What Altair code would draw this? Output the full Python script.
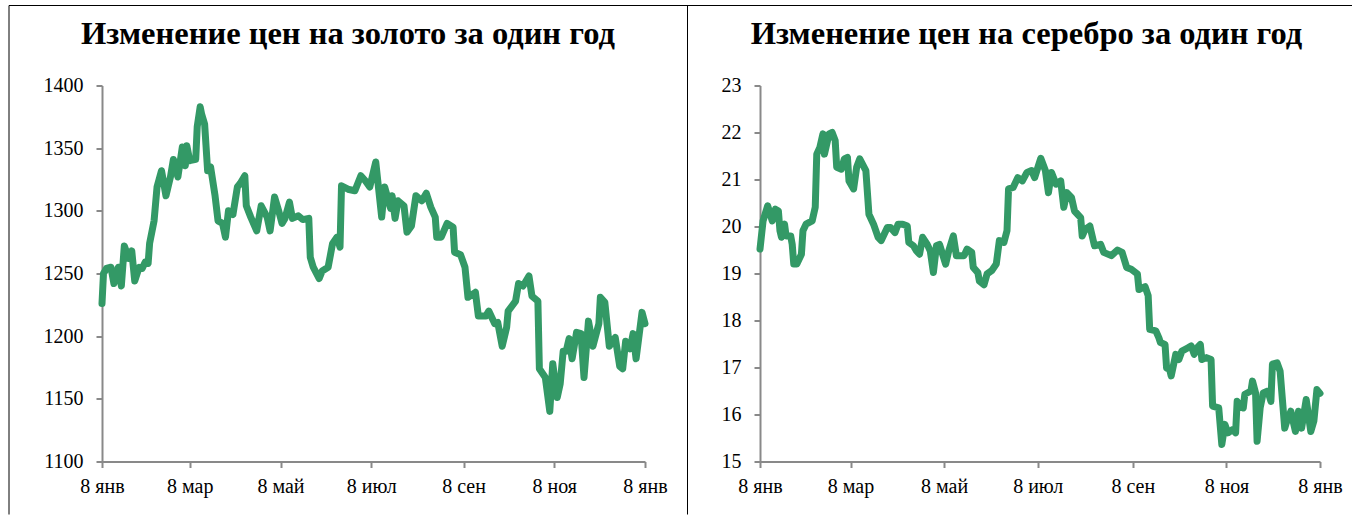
import altair as alt
import pandas as pd

START = "2014-01-08"

# Gold: day offset from 8 Jan 2014, price (USD/oz)
gold_day = [0, 1, 3, 6, 8, 11, 13, 15, 18, 20, 22, 25, 27, 29, 31, 32, 35, 37, 40, 43,
            46, 48, 51, 54, 56, 57, 59, 63, 64, 66, 67, 69, 71, 73, 76, 78, 81, 83, 85, 88,
            91, 93, 96, 97, 100, 104, 107, 111, 113, 116, 119, 121, 123, 126, 128, 132, 135, 139, 140, 142,
            146, 148, 152, 155, 158, 160, 161, 166, 170, 174, 177, 180, 184, 188, 190, 194, 195, 197, 199, 203,
            205, 208, 211, 215, 218, 221, 224, 225, 228, 232, 236, 237, 241, 244, 246, 251, 253, 258, 260, 264,
            266, 269, 272, 273, 278, 280, 283, 287, 289, 293, 294, 298, 301, 303, 306, 308, 310, 312, 314, 316,
            319, 322, 324, 327, 330, 334, 335, 338, 341, 345, 348, 350, 352, 355, 357, 359, 363, 365]
gold_price = [1226, 1250, 1254, 1255, 1242, 1255, 1240, 1272, 1262, 1268, 1244, 1255, 1254, 1259, 1258, 1274, 1292, 1319, 1332, 1312,
              1327, 1341, 1327, 1351, 1336, 1352, 1340, 1341, 1367, 1383, 1377, 1369, 1332, 1335, 1312, 1292, 1290, 1279, 1300, 1297,
              1319, 1322, 1328, 1304, 1295, 1284, 1304, 1295, 1284, 1311, 1299, 1290, 1294, 1307, 1294, 1296, 1293, 1294, 1263, 1255,
              1246, 1252, 1255, 1274, 1279, 1271, 1320, 1317, 1316, 1328, 1324, 1319, 1339, 1295, 1319, 1302, 1312, 1294, 1308, 1304,
              1283, 1288, 1312, 1308, 1314, 1303, 1295, 1279, 1279, 1290, 1287, 1267, 1265, 1255, 1231, 1235, 1216, 1216, 1220, 1210,
              1211, 1192, 1207, 1220, 1228, 1242, 1240, 1248, 1232, 1228, 1174, 1167, 1140, 1178, 1151, 1162, 1188, 1188, 1198, 1182,
              1203, 1202, 1167, 1212, 1192, 1210, 1231, 1227, 1192, 1199, 1176, 1174, 1196, 1190, 1202, 1182, 1219, 1210]

# Silver: day offset from 8 Jan 2014, price (USD/oz)
silver_day = [0, 2, 5, 8, 10, 12, 13, 14, 16, 17, 20, 21, 22, 24, 27, 28, 30, 34, 36, 37,
              39, 41, 42, 45, 47, 49, 50, 53, 55, 57, 58, 61, 63, 65, 69, 71, 74, 77, 79, 83,
              85, 88, 90, 93, 96, 97, 100, 102, 104, 106, 109, 111, 113, 115, 117, 121, 123, 126, 128, 133,
              135, 138, 139, 142, 143, 146, 148, 151, 154, 156, 159, 161, 162, 165, 168, 171, 174, 177, 179, 183,
              186, 188, 190, 193, 196, 198, 200, 203, 205, 209, 210, 212, 215, 218, 222, 224, 229, 233, 236, 239,
              242, 246, 247, 251, 253, 254, 258, 260, 261, 264, 265, 267, 268, 271, 273, 275, 279, 281, 283, 285,
              287, 288, 291, 294, 295, 299, 301, 303, 305, 308, 310, 311, 313, 315, 316, 320, 321, 323, 324, 326,
              328, 331, 333, 334, 337, 339, 342, 343, 346, 349, 351, 353, 356, 359, 361, 363, 365]
silver_price = [19.52, 20.12, 20.44, 20.12, 20.37, 20.33, 19.91, 19.77, 20.05, 19.80, 19.80, 19.62, 19.20, 19.20, 19.41, 19.91, 20.05, 20.12, 20.41, 21.54,
                21.68, 21.97, 21.54, 21.97, 22.00, 21.83, 21.26, 21.22, 21.44, 21.47, 20.97, 20.80, 21.26, 21.44, 21.19, 20.26, 20.05, 19.77, 19.70, 19.98,
                19.98, 19.87, 20.05, 20.05, 20.01, 19.66, 19.59, 19.48, 19.41, 19.77, 19.62, 19.48, 19.02, 19.59, 19.62, 19.20, 19.48, 19.80, 19.38, 19.38,
                19.52, 19.45, 19.13, 19.02, 18.84, 18.76, 18.99, 19.06, 19.20, 19.70, 19.66, 19.91, 20.80, 20.83, 21.04, 20.97, 21.15, 21.19, 21.04, 21.45,
                21.19, 20.72, 21.15, 20.90, 20.97, 20.41, 20.72, 20.62, 20.33, 20.19, 19.80, 19.94, 20.01, 19.59, 19.62, 19.45, 19.38, 19.50, 19.45, 19.13,
                19.09, 18.99, 18.66, 18.72, 18.53, 17.81, 17.78, 17.63, 17.53, 17.49, 16.99, 16.96, 16.82, 17.28, 17.17, 17.35, 17.42, 17.46, 17.28, 17.42,
                17.49, 17.17, 17.21, 17.17, 16.18, 16.14, 15.36, 15.79, 15.61, 15.68, 15.61, 16.28, 16.18, 16.14, 16.43, 16.50, 16.71, 16.46, 15.43, 16.14,
                16.46, 16.50, 16.28, 17.07, 17.10, 16.92, 15.71, 15.82, 16.07, 15.64, 16.07, 15.71, 16.32, 15.64, 15.86, 16.53, 16.45]

gold_ticks = [1100, 1150, 1200, 1250, 1300, 1350, 1400]
silver_ticks = [15, 16, 17, 18, 19, 20, 21, 22, 23]
tick_months = [(2014, 1), (2014, 3), (2014, 5), (2014, 7), (2014, 9), (2014, 11), (2015, 1)]
month_names = ["янв", "фев", "мар", "апр", "май", "июн", "июл", "авг", "сен", "окт", "ноя", "дек"]

gold_title = "Изменение цен на золото за один год"
silver_title = "Изменение цен на серебро за один год"

LINE_COLOR = "#339966"
AXIS_COLOR = "#898989"
FONT = "Liberation Serif"


def frame(days, vals):
    dates = pd.to_datetime(START) + pd.to_timedelta(days, unit="D")
    return pd.DataFrame({"date": dates.strftime("%Y-%m-%d"), "value": vals})


month_arr = "[" + ",".join("'%s'" % m for m in month_names) + "]"
x_ticks = [alt.DateTime(year=y, month=m, date=8) for y, m in tick_months]
x_domain = [x_ticks[0], x_ticks[-1]]

one = pd.DataFrame({"k": [0]})


def title_mark(text, cx):
    return alt.Chart(pd.DataFrame({"t": [text]})).mark_text(
        font=FONT, fontSize=32.5, fontWeight="bold", color="black",
        align="center", baseline="alphabetic",
    ).encode(text="t:N", x=alt.value(cx), y=alt.value(-42))


def panel(df, ticks, title, width, title_cx, decor):
    x = alt.X(
        "date:T",
        scale=alt.Scale(domain=x_domain, nice=False),
        axis=alt.Axis(
            values=x_ticks,
            labelExpr="date(datum.value) + ' ' + " + month_arr + "[month(datum.value)]",
            title=None, grid=False, labelFont=FONT, labelFontSize=20, labelColor="black",
            domainColor=AXIS_COLOR, domainWidth=2, tickColor=AXIS_COLOR, tickWidth=2,
            tickSize=6, labelPadding=9, labelFlush=False, labelOverlap=False,
        ),
    )
    y = alt.Y(
        "value:Q",
        scale=alt.Scale(domain=[ticks[0], ticks[-1]], nice=False, zero=False),
        axis=alt.Axis(
            values=ticks, format="d", title=None, grid=False, labelFont=FONT, labelFontSize=20,
            labelColor="black", domainColor=AXIS_COLOR, domainWidth=2, tickColor=AXIS_COLOR,
            tickWidth=2, tickSize=6, labelPadding=13,
        ),
    )
    line = alt.Chart(df).mark_line(
        color=LINE_COLOR, strokeWidth=7, strokeJoin="round", strokeCap="round"
    ).encode(x=x, y=y)
    layers = [line, title_mark(title, title_cx)] + decor
    return alt.layer(*layers).properties(width=width, height=376)


frame_rules = [
    alt.Chart(one).mark_rule(color="black", strokeWidth=1).encode(
        x=alt.value(-93), y=alt.value(-80), y2=alt.value(429)),
    alt.Chart(one).mark_rule(color="black", strokeWidth=1).encode(
        x=alt.value(585.5), y=alt.value(-80), y2=alt.value(429)),
    alt.Chart(one).mark_rule(color="black", strokeWidth=1).encode(
        x=alt.value(-93), x2=alt.value(1250), y=alt.value(-80)),
]

left = panel(frame(gold_day, gold_price), gold_ticks, gold_title, 543, 246, frame_rules)
right = panel(frame(silver_day, silver_price), silver_ticks, silver_title, 560, 266.5, [])

chart = alt.hconcat(left, right, spacing=115, bounds="flush").properties(
    padding={"left": 8, "top": 4.5, "right": 0, "bottom": 0},
    background="white",
).configure_view(stroke=None)

chart.save("out.html", embed_options={"renderer": "svg", "actions": False})
